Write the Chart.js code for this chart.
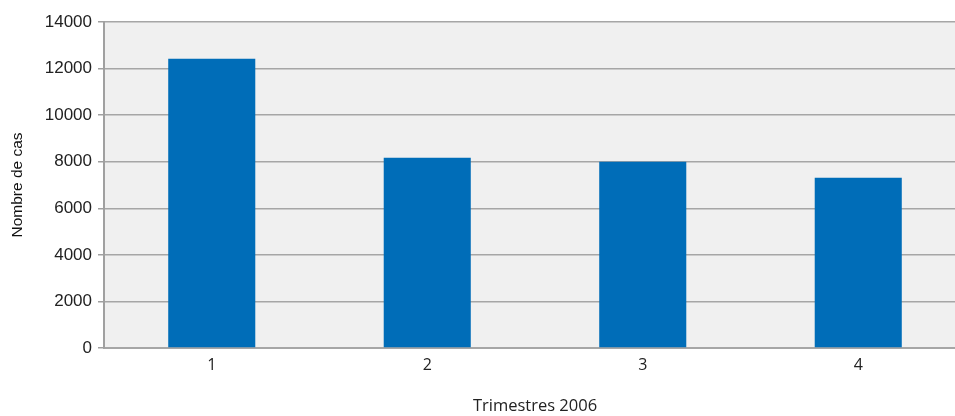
<!DOCTYPE html>
<html>
<head>
<meta charset="utf-8">
<script src="https://cdn.jsdelivr.net/npm/chart.js@4/dist/chart.umd.min.js"></script>
<style>
  html, body { margin: 0; padding: 0; background: #fff; overflow: hidden; }
  #wrap { width: 968px; height: 416px; }
</style>
</head>
<body>
<div id="wrap"><canvas id="casChart"></canvas></div>
<script>
// Données
const trimestres = ['1', '2', '3', '4'];
const nombreCas = [12420, 8170, 8000, 7310];
const yTicks = [0, 2000, 4000, 6000, 8000, 10000, 12000, 14000];

// fond gris de la zone de tracé
const plotBackground = {
    id: 'plotBackground',
    beforeDraw(chart) {
        const { ctx, chartArea } = chart;
        ctx.save();
        ctx.fillStyle = '#f0f0f0';
        ctx.fillRect(chartArea.left, chartArea.top, chartArea.right - chartArea.left, chartArea.bottom - chartArea.top);
        ctx.restore();
    }
};

const ctx = document.getElementById('casChart').getContext('2d');
new Chart(ctx, {
    type: 'bar',
    data: {
        labels: trimestres,
        datasets: [{
            label: 'Nombre de cas',
            data: nombreCas,
            backgroundColor: '#006db8',
            borderWidth: 0,
            categoryPercentage: 1,
            barPercentage: 0.404
        }]
    },
    options: {
        responsive: true,
        maintainAspectRatio: false,
        animation: false,
        layout: { padding: { top: 22, right: 2, left: 0, bottom: 0 } },
        plugins: { legend: { display: false }, tooltip: { enabled: false } },
        scales: {
            x: {
                grid: { display: false, drawTicks: false },
                border: { display: true, color: '#a6a6a6', width: 2 },
                ticks: {
                    color: '#222',
                    font: { family: 'Open Sans', size: 16 },
                    padding: 8
                },
                title: {
                    display: true,
                    text: 'Trimestres 2006',
                    color: '#222',
                    font: { family: 'Open Sans', size: 16.5 },
                    padding: { top: 13, bottom: 0 }
                },
                afterFit(scale) { scale.height = 68; }
            },
            y: {
                min: 0,
                max: 14000,
                afterBuildTicks(scale) { scale.ticks = yTicks.map(v => ({ value: v })); },
                grid: {
                    color: '#a6a6a6',
                    lineWidth: 1.5,
                    tickLength: 6,
                    tickColor: '#a0a0a0'
                },
                border: { display: true, color: '#a0a0a0', width: 2 },
                ticks: {
                    color: '#222',
                    font: { family: 'Liberation Sans', size: 17 },
                    padding: 6,
                    callback: v => String(v)
                },
                title: {
                    display: true,
                    text: 'Nombre de cas',
                    color: '#111',
                    font: { family: 'Liberation Sans', size: 15.5 },
                    padding: { top: 8, bottom: 4 }
                },
                afterFit(scale) { scale.width = 104; }
            }
        }
    },
    plugins: [plotBackground]
});
</script>
</body>
</html>
